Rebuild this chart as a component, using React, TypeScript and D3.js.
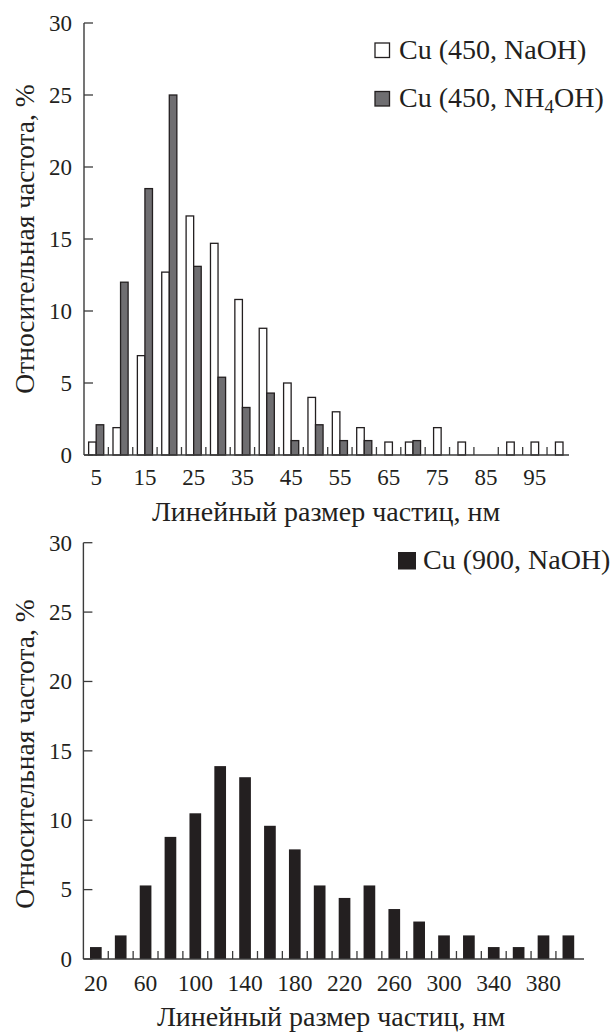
import React from "react";
import * as d3 from "d3";

// Top chart data (bins, nm)
const topBins = [5, 10, 15, 20, 25, 30, 35, 40, 45, 50, 55, 60, 65, 70, 75, 80, 85, 90, 95, 100];
const naohValues = [0.9, 1.9, 6.9, 12.7, 16.6, 14.7, 10.8, 8.8, 5.0, 4.0, 3.0, 1.9, 0.9, 0.9, 1.9, 0.9, 0, 0.9, 0.9, 0.9];
const nh4ohValues = [2.1, 12.0, 18.5, 25.0, 13.1, 5.4, 3.3, 4.3, 1.0, 2.1, 1.0, 1.0, 0, 1.0, 0, 0, 0, 0, 0, 0];
const topTickLabels = [5, 15, 25, 35, 45, 55, 65, 75, 85, 95];

// Bottom chart data
const bottomBins = [20, 40, 60, 80, 100, 120, 140, 160, 180, 200, 220, 240, 260, 280, 300, 320, 340, 360, 380, 400];
const naoh900Values = [0.86, 1.7, 5.3, 8.8, 10.5, 13.9, 13.1, 9.6, 7.9, 5.3, 4.4, 5.3, 3.6, 2.7, 1.7, 1.7, 0.86, 0.86, 1.7, 1.7];
const bottomTickLabels = [20, 60, 100, 140, 180, 220, 260, 300, 340, 380];

const yTicks = [0, 5, 10, 15, 20, 25, 30];

const INK = "#231f20";
const GREY = "#6f6e71";
const AXIS = "#3b3b3b";
const FONT = "Liberation Serif";

const yTitle = "Относительная частота, %";
const xTitle = "Линейный размер частиц, нм";

function Axes({ x, y, bins, tickLabels, x0, x1, titleX, tickBaseline, titleBaseline, yTitleCenter, tickSize }: any) {
  const bw = x.bandwidth();
  return (
    <g>
      <line x1={x0} x2={x0} y1={y(30)} y2={y(0)} stroke={AXIS} strokeWidth={1.4} />
      <line x1={x0} x2={x1} y1={y(0)} y2={y(0)} stroke={AXIS} strokeWidth={1.4} />
      {yTicks.map((t) => (
        <g key={t}>
          <line x1={x0} x2={x0 + 9} y1={y(t)} y2={y(t)} stroke={AXIS} strokeWidth={1.3} />
          <text x={72} y={y(t)} dy="0.34em" textAnchor="end" fontFamily={FONT} fontSize={23} fill={INK}>
            {t}
          </text>
        </g>
      ))}
      {bins.slice(1).map((b: number) => (
        <line key={b} x1={x(b)} x2={x(b)} y1={y(0)} y2={y(0) - 8} stroke={AXIS} strokeWidth={1.3} />
      ))}
      {tickLabels.map((t: number) => (
        <text key={t} x={(x(t) as number) + bw / 2} y={tickBaseline} textAnchor="middle" fontFamily={FONT} fontSize={tickSize} fill={INK}>
          {t}
        </text>
      ))}
      <text x={titleX} y={titleBaseline} textAnchor="middle" fontFamily={FONT} fontSize={28} fill={INK}>
        {xTitle}
      </text>
      <text transform={`translate(33.5,${yTitleCenter}) rotate(-90)`} textAnchor="middle" fontFamily={FONT} fontSize={27.5} fill={INK}>
        {yTitle}
      </text>
    </g>
  );
}

export default function App() {
  // Top chart scales
  const xTop = d3.scaleBand<number>().domain(topBins).range([84, 571.4]).padding(0);
  const yTop = d3.scaleLinear().domain([0, 30]).range([455, 23]);
  const bwTop = xTop.bandwidth();
  const barW = bwTop * 0.31;

  // Bottom chart scales
  const xBot = d3.scaleBand<number>().domain(bottomBins).range([83.4, 580.8]).padding(0);
  const yBot = d3.scaleLinear().domain([0, 30]).range([959, 542.7]);
  const bwBot = xBot.bandwidth();
  const barWBot = bwBot * 0.47;

  return (
    <svg width={611} height={1035} style={{ position: "absolute", left: 0, top: 0, background: "#fff" }}>
      <rect x={0} y={0} width={611} height={1035} fill="#fff" />
      {/* Top chart bars */}
      <g>
        {topBins.map((b, i) => {
          const a = naohValues[i];
          const g = nh4ohValues[i];
          const cx = (xTop(b) as number) + bwTop / 2;
          const out: any[] = [];
          if (a > 0 && g > 0) {
            out.push(<rect key="a" x={cx - barW} y={yTop(a)} width={barW} height={yTop(0) - yTop(a)} fill="#fff" stroke={INK} strokeWidth={1.3} />);
            out.push(<rect key="g" x={cx} y={yTop(g)} width={barW} height={yTop(0) - yTop(g)} fill={GREY} stroke={INK} strokeWidth={1.3} />);
          } else if (a > 0) {
            out.push(<rect key="a" x={cx - barW / 2} y={yTop(a)} width={barW} height={yTop(0) - yTop(a)} fill="#fff" stroke={INK} strokeWidth={1.3} />);
          } else if (g > 0) {
            out.push(<rect key="g" x={cx - barW / 2} y={yTop(g)} width={barW} height={yTop(0) - yTop(g)} fill={GREY} stroke={INK} strokeWidth={1.3} />);
          }
          return <g key={b}>{out}</g>;
        })}
      </g>
      <Axes x={xTop} y={yTop} bins={topBins} tickLabels={topTickLabels} x0={84} x1={569} titleX={326} tickBaseline={485} titleBaseline={521} yTitleCenter={239} tickSize={23} />
      {/* Top legend */}
      <rect x={375} y={43} width={14.5} height={14.5} fill="#fff" stroke={INK} strokeWidth={1.3} />
      <text x={399} y={59} fontFamily={FONT} fontSize={28} fill={INK}>Cu (450, NaOH)</text>
      <rect x={375} y={91.5} width={14.5} height={14.5} fill={GREY} stroke={INK} strokeWidth={1.3} />
      <text x={399} y={107} fontFamily={FONT} fontSize={28} fill={INK}>
        Cu (450, NH
        <tspan fontSize={19} dy={6}>4</tspan>
        <tspan dy={-6}>OH)</tspan>
      </text>

      {/* Bottom chart bars */}
      <g>
        {bottomBins.map((b, i) => {
          const v = naoh900Values[i];
          const cx = (xBot(b) as number) + bwBot / 2;
          return <rect key={b} x={cx - barWBot / 2} y={yBot(v)} width={barWBot} height={yBot(0) - yBot(v)} fill={INK} />;
        })}
      </g>
      <Axes x={xBot} y={yBot} bins={bottomBins} tickLabels={bottomTickLabels} x0={83.4} x1={584} titleX={331} tickBaseline={991} titleBaseline={1026} yTitleCenter={754} tickSize={23.5} />
      {/* Bottom legend */}
      <rect x={398} y={552} width={18} height={17.5} fill={INK} />
      <text x={423} y={569} fontFamily={FONT} fontSize={28} fill={INK}>Cu (900, NaOH)</text>
    </svg>
  );
}
